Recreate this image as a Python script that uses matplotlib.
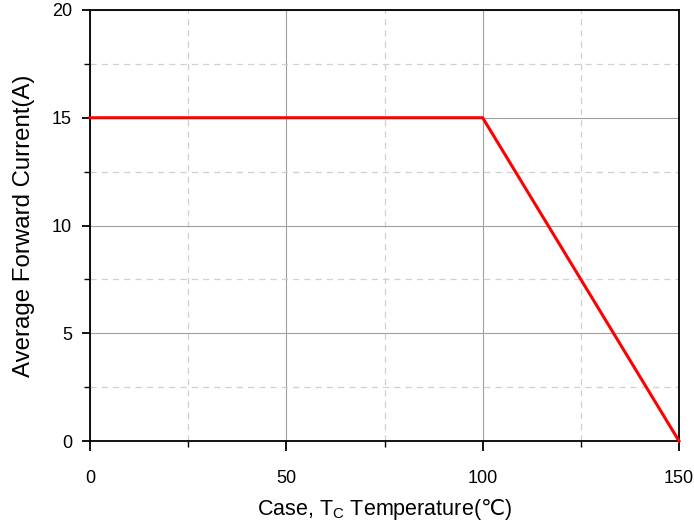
import matplotlib
matplotlib.use("Agg")
import matplotlib.pyplot as plt
from matplotlib.ticker import MultipleLocator

# derating curve
temp_c = [0, 100, 150]
current_a = [15, 15, 0]

x_major = [0, 50, 100, 150]
y_major = [0, 5, 10, 15, 20]

plt.rcParams['font.family'] = ['Liberation Sans', 'DejaVu Sans']
plt.rcParams['mathtext.fontset'] = 'custom'
plt.rcParams['mathtext.rm'] = 'Liberation Sans'
plt.rcParams['mathtext.sf'] = 'DejaVu Sans'

fig = plt.figure(figsize=(6.94, 5.24), dpi=100)
ax = fig.add_axes([90 / 694, 1 - 441 / 524, 589 / 694, 431 / 524])

ax.plot(temp_c, current_a, color='#ff0000', lw=2.2, zorder=3, clip_on=False)

ax.set_xlim(0, 150)
ax.set_ylim(0, 20)
ax.set_xticks(x_major)
ax.set_yticks(y_major)
ax.xaxis.set_minor_locator(MultipleLocator(25))
ax.yaxis.set_minor_locator(MultipleLocator(2.5))

ax.grid(True, which='major', color='#a0a0a0', lw=0.8, ls='-')
ax.grid(True, which='minor', color='#d0d0d0', lw=0.9, ls=(0, (5, 4)))
ax.set_axisbelow(True)

for s in ax.spines.values():
    s.set_linewidth(1.3)
    s.set_color('black')

ax.tick_params(which='major', direction='out', width=1.3, labelsize=13)
ax.tick_params(axis='x', which='major', length=7, pad=14)
ax.tick_params(axis='y', which='major', length=6, pad=7)
ax.tick_params(which='minor', direction='out', length=4, width=1.0)

ax.set_ylabel('Average Forward Current(A)', fontsize=17.3, labelpad=12)
ax.set_xlabel('Case, T$_\\mathrm{C}$ Temperature($\\mathsf{℃}$)', fontsize=15.5, labelpad=7)

fig.savefig('out.png', dpi=100)
